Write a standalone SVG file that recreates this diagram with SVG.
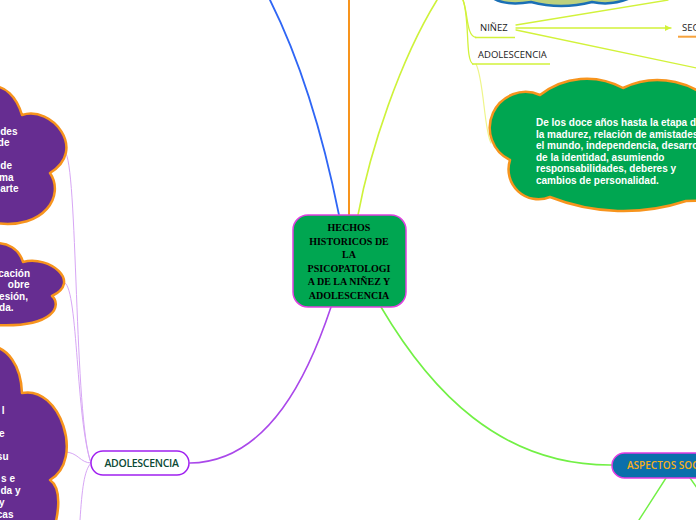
<svg xmlns="http://www.w3.org/2000/svg" width="696" height="520" viewBox="0 0 696 520">
<style>
.cloudP{fill:#662d91;stroke:#f7941d;stroke-width:2.5;stroke-linejoin:round}
.cloudG{fill:#00a651;stroke:#f7941d;stroke-width:2.5;stroke-linejoin:round}
.ctxt{font-family:"Liberation Sans",Arial,sans-serif;font-weight:bold;font-size:10px;fill:#ffffff}
.lbl{font-family:"Open Sans","DejaVu Sans",sans-serif;font-size:9.5px;fill:#1a1a1a}
.c{fill:none;stroke-linecap:round}
.thinP{stroke:#d7a6f5;stroke-width:1}
.yg{stroke:#d2f23a;stroke-width:1.3}
</style>
<defs>
<marker id="arr" markerWidth="8" markerHeight="8" refX="6" refY="3" orient="auto" markerUnits="userSpaceOnUse">
<path d="M0,0 L6,3 L0,6 Z" fill="#d2f23a"/>
</marker>
</defs>

<g id="connectors">
<path class="c" d="M339,215 C320,120 295,50 270,0" stroke="#2f66f5" stroke-width="1.8"/>
<path class="c" d="M349,215 L349,0" stroke="#f7941d" stroke-width="2"/>
<path class="c" d="M358,215 C370,150 400,60 437,0" stroke="#cef23a" stroke-width="1.6"/>
<path class="c" d="M331,307 C310,370 270,462 190,463" stroke="#aa48ea" stroke-width="1.6"/>
<path class="c" d="M381,307 C430,390 500,466 612,465" stroke="#72f045" stroke-width="1.6"/>
<path class="c" d="M666,478 L639,520" stroke="#72f045" stroke-width="1.4"/>
<path class="c" d="M690,478 L697,488" stroke="#72f045" stroke-width="1.4"/>
<path class="c thinP" d="M65,152 C78,160 74,420 91,463"/>
<path class="c thinP" d="M65,283 C78,290 76,420 91,463"/>
<path class="c thinP" d="M65,452 C78,452 80,463 91,463"/>
<path class="c thinP" d="M91,463 C84,470 82,490 80,520"/>
<path class="c yg" d="M463,0 C468,12 466,36 476,37.5"/>
<path class="c yg" d="M463,0 C470,20 465,60 473,64"/>
<path class="c" d="M476,64 C484,80 484,130 491,143" stroke="#eef58a" stroke-width="1.2"/>
<path class="c yg" d="M516,25 L668,0"/>
<path class="c yg" d="M516,28 L671,28" marker-end="url(#arr)"/>
<path class="c yg" d="M516,30 L697,68"/>
</g>

<g id="top-cloud">
<path d="M488,-6 Q500,7 531,2 Q561,10 592,2 Q616,7 638,-6 Z" fill="#bcd17e" stroke="#1a6fb5" stroke-width="2.5"/>
</g>

<g id="center">
<rect x="293" y="215" width="113" height="92" rx="15" ry="15" fill="#00a651" stroke="#e040e0" stroke-width="1.5"/>
<g font-family="'Liberation Serif','Times New Roman',serif" font-weight="bold" font-size="10" fill="#000" text-anchor="middle">
<text x="349" y="230.5">HECHOS</text>
<text x="349" y="244.5">HISTORICOS DE</text>
<text x="349" y="257.5">LA</text>
<text x="349" y="271.8">PSICOPATOLOGI</text>
<text x="349" y="285.2">A DE LA NIÑEZ Y</text>
<text x="349" y="299">ADOLESCENCIA</text>
</g>
</g>

<g id="adolescencia-left">
<rect x="91" y="451" width="98" height="24" rx="12" ry="12" fill="#ffffff" stroke="#a020f0" stroke-width="1.5"/>
<text x="141.5" y="466.5" text-anchor="middle" font-family="'Open Sans','DejaVu Sans',sans-serif" font-size="10.5" font-weight="600" letter-spacing="-0.3" fill="#0b4a35">ADOLESCENCIA</text>
</g>

<g id="aspectos">
<rect x="612" y="453" width="130" height="25" rx="12.5" ry="12.5" fill="#0b6fab" stroke="#e23be2" stroke-width="1.5"/>
<text x="627" y="468.5" font-family="'Open Sans','DejaVu Sans',sans-serif" font-size="10" font-weight="600" fill="#f5b01a">ASPECTOS SOC</text>
</g>

<g id="cloud1">
<path class="cloudP" d="M-30,110 C-25,80 10,75 22,115 C52,105 88,150 50,173 C65,195 45,230 -5,223 L-30,223 Z"/>
<text class="ctxt" text-anchor="end" x="17.5" y="134.5">des</text>
<text class="ctxt" text-anchor="end" x="9.5" y="146">de</text>
<text class="ctxt" text-anchor="end" x="12" y="169">de</text>
<text class="ctxt" text-anchor="end" x="13.5" y="180.5">ma</text>
<text class="ctxt" text-anchor="end" x="18.5" y="192">arte</text>
</g>

<g id="cloud2">
<path class="cloudP" d="M-30,265 C-25,238 15,235 23,262 C50,255 82,282 52,296 C62,305 55,328 -5,325 L-30,325 Z"/>
<text class="ctxt" text-anchor="end" x="30" y="276.5">cación</text>
<text class="ctxt" text-anchor="end" x="29.5" y="288">obre</text>
<text class="ctxt" text-anchor="end" x="28" y="299.5">esión,</text>
<text class="ctxt" text-anchor="end" x="13.5" y="311">da.</text>
</g>

<g id="cloud3">
<path class="cloudP" d="M-40,380 C-35,330 20,335 22,393 C60,385 85,460 50,480 C62,488 60,515 50,540 L-40,540 Z"/>
<text class="ctxt" text-anchor="end" x="4.5" y="413.5">l</text>
<text class="ctxt" text-anchor="end" x="4.5" y="436.5">e</text>
<text class="ctxt" text-anchor="end" x="8.5" y="459.5">su</text>
<text class="ctxt" text-anchor="end" x="15" y="481.5">s e</text>
<text class="ctxt" text-anchor="end" x="20.5" y="494">da y</text>
<text class="ctxt" text-anchor="end" x="4.5" y="505.5">y</text>
<text class="ctxt" text-anchor="end" x="13.5" y="517.5">cas</text>
</g>

<g id="ninez">
<text class="lbl" x="480" y="31">NIÑEZ</text>
<path d="M475,37.5 L515,37.5" stroke="#d2f23a" stroke-width="1.5"/>
</g>

<g id="adolescencia-right">
<text class="lbl" x="478" y="58">ADOLESCENCIA</text>
<path d="M472,64 L550,64" stroke="#d2f23a" stroke-width="1.5"/>
</g>

<g id="sec">
<text class="lbl" x="682" y="31" font-size="10">SEC</text>
<path d="M678,36.7 L697,36.7" stroke="#f7a23b" stroke-width="2"/>
</g>

<g id="cloud-right">
<path class="cloudG" d="M540,95 A75 75 0 0 1 623,88 A80 80 0 0 1 720,110 L720,200 L686,201 A200 200 0 0 1 550,197 A30 30 0 0 1 510,160 A35.8 35.8 0 0 1 540,95 Z"/>
<text class="ctxt" x="536" y="126">De los doce años hasta la etapa d</text>
<text class="ctxt" x="536" y="137.5">la madurez, relación de amistades</text>
<text class="ctxt" x="536" y="149">el mundo, independencia, desarro</text>
<text class="ctxt" x="536" y="160.5">de la identidad, asumiendo</text>
<text class="ctxt" x="536" y="172">responsabilidades, deberes y</text>
<text class="ctxt" x="536" y="183.5">cambios de personalidad.</text>
</g>
</svg>
